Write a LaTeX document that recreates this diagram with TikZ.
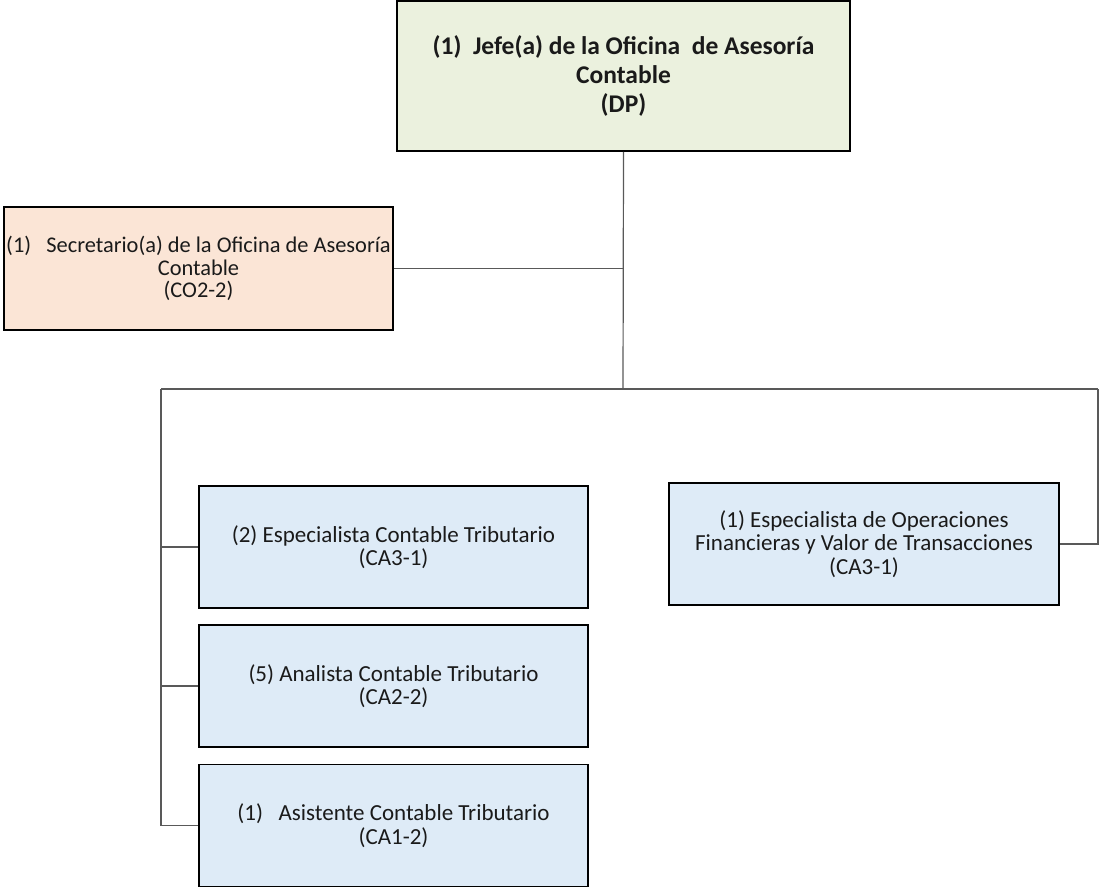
\documentclass[tikz,border=0pt]{standalone}
\usepackage{fontspec}
\setmainfont{Carlito}
\definecolor{boxgreen}{HTML}{EBF1DE}
\definecolor{boxpeach}{HTML}{FBE5D6}
\definecolor{boxblue}{HTML}{DEEBF7}
\definecolor{linegray}{HTML}{595959}
\definecolor{txt}{HTML}{1A1A1A}
\begin{document}
\begin{tikzpicture}[x=1pt,y=-1pt,
  orgbox/.style={draw=black,line width=1.5pt,rectangle,align=center,inner sep=0pt,text=txt},
  conn/.style={draw=linegray,line width=1.2pt}]
\useasboundingbox (0,0) rectangle (1099,889);
\node[orgbox,fill=boxgreen,minimum width=453pt,minimum height=150pt,
  font=\fontsize{25.5}{29}\selectfont\bfseries] (jefe) at (623.5,76)
  {(1)\ \ Jefe(a) de la Oficina\ \ de Asesoría\\Contable\\(DP)};
\node[orgbox,fill=boxpeach,minimum width=389pt,minimum height=123pt,
  font=\fontsize{22.4}{22.5}\selectfont] (sec) at (198.5,268.5)
  {(1)\ \ \ Secretario(a) de la Oficina de Asesoría\\Contable\\(CO2-2)};
\node[orgbox,fill=boxblue,minimum width=389pt,minimum height=122pt,
  font=\fontsize{23}{23.5}\selectfont] (esp) at (393.5,547)
  {(2) Especialista Contable Tributario\\(CA3-1)};
\node[orgbox,fill=boxblue,minimum width=389pt,minimum height=122pt,
  font=\fontsize{23}{23.5}\selectfont] (ana) at (393.5,686)
  {(5) Analista Contable Tributario\\(CA2-2)};
\node[orgbox,fill=boxblue,minimum width=389pt,minimum height=122pt,
  font=\fontsize{23}{23.5}\selectfont] (asi) at (393.5,825.5)
  {(1)\ \ \ Asistente Contable Tributario\\(CA1-2)};
\node[orgbox,fill=boxblue,minimum width=390pt,minimum height=122pt,
  font=\fontsize{23}{23.5}\selectfont] (ope) at (864,544)
  {(1) Especialista de Operaciones\\Financieras y Valor de Transacciones\\(CA3-1)};
\coordinate (hub) at (623,389);
\coordinate (lc) at (161,389);
\coordinate (rc) at (1098,389);
\draw[conn] (jefe.south) -- (hub);
\draw[conn] (sec.east) -- (sec.east -| jefe.south);
\draw[conn] (lc) -- (rc);
\draw[conn] (lc) -- (lc |- asi.west) -- (asi.west);
\draw[conn] (lc |- esp.west) -- (esp.west);
\draw[conn] (lc |- ana.west) -- (ana.west);
\draw[conn] (rc) -- (rc |- ope.east) -- (ope.east);
\end{tikzpicture}
\end{document}
